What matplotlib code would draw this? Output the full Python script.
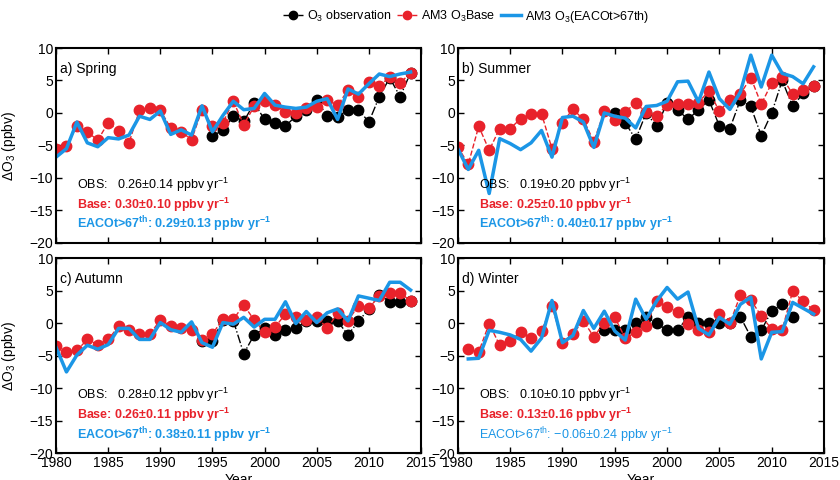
import numpy as np
import matplotlib.pyplot as plt

plt.rcParams['font.family'] = ['Liberation Sans', 'DejaVu Sans']
plt.rcParams['font.size'] = 9
plt.rcParams['mathtext.fontset'] = 'custom'
plt.rcParams['mathtext.rm'] = 'Liberation Sans'
plt.rcParams['mathtext.bf'] = 'Liberation Sans:bold'

# seasonal O3 anomalies (ppbv)
years = list(range(1980, 2015))
years_win = list(range(1981, 2015))

spring_base = [-5.6, -5.1, -2.0, -2.9, -4.2, -1.5, -2.8, -4.6, 0.4, 0.8, 0.4, -2.3, -2.9, -4.1, 0.5,
               -2.0, -1.5, 1.8, -1.8, 1.0, 1.8, 1.2, 0.15, 0.0, 0.7, 0.9, 2.0, 1.2, 3.5, 2.4,
               4.8, 4.1, 5.6, 4.6, 6.2]
spring_eaco = [-6.8, -5.5, -1.4, -4.6, -5.2, -3.8, -4.0, -3.4, -0.5, -1.0, 0.3, -3.3, -2.6, -3.4, 1.1,
               -2.9, -0.4, 1.8, 0.5, 0.7, 3.0, 1.2, 0.9, 0.7, 0.9, 1.8, 2.2, -1.0, 3.7, 2.9,
               4.5, 6.0, 5.6, 6.0, 6.3]
spring_obs_years = list(range(1995, 2015))
spring_obs = [-3.6, -2.6, -0.5, -1.3, 1.5, -1.0, -1.5, -2.0, -0.5, 0.4, 2.0, -0.5, -0.6, 0.5, 0.5,
              -1.4, 2.5, 5.4, 2.5, 6.2]

summer_base = [-5.2, -7.9, -2.05, -5.75, -2.4, -2.4, -0.9, -0.2, -0.1, -5.5, -1.5, 0.6, -1.0, -4.4, 0.25,
               -1.1, 0.2, 1.5, 0.1, -0.4, 1.2, 1.45, 1.4, 1.6, 3.4, 0.25, 2.05, 2.9, 5.45, 1.35,
               4.6, 5.5, 2.9, 3.6, 4.1]
summer_eaco = [-5.5, -8.7, -5.75, -12.4, -3.95, -4.7, -5.65, -4.6, -2.7, -6.8, -0.7, -0.5, -1.4, -5.3, 0.0,
               -0.5, -0.8, -2.3, 1.0, 1.15, 1.8, 4.8, 4.9, 1.7, 6.3, 2.2, 0.55, 3.2, 8.9, 4.0,
               8.9, 6.1, 5.6, 4.5, 7.1]
summer_obs_years = list(range(1995, 2015))
summer_obs = [0.0, -1.5, -4.05, 0.0, -2.05, 1.5, 0.5, -1.0, 0.5, 2.0, -2.0, -2.4, 2.0, 1.0, -3.5,
              0.0, 5.0, 1.0, 3.0, 4.1]

autumn_base = [-3.5, -4.5, -4.2, -2.5, -3.3, -2.5, -0.5, -1.0, -1.6, -1.7, 0.5, -0.4, -0.8, -1.0, -2.6,
               -1.7, 0.7, 0.6, 2.8, 0.5, -1.4, -0.6, 1.4, 0.9, 0.5, 1.0, -0.8, 1.5, 0.4, 2.7,
               2.3, 4.2, 4.7, 4.7, 3.4]
autumn_eaco = [-3.7, -7.5, -4.9, -3.4, -4.0, -3.3, -0.8, -0.8, -2.5, -2.5, 0.1, -1.0, -1.4, 0.2, -3.0,
               -3.7, 0.1, -0.15, 0.9, -0.6, 0.6, 0.6, 3.3, -0.05, 1.8, 0.1, 1.6, 2.2, 0.35, 4.2,
               3.85, 3.5, 6.3, 6.3, 5.1]
autumn_obs_years = list(range(1994, 2015))
autumn_obs = [-2.7, -2.7, 0.5, 0.4, -4.7, -1.8, -0.8, -1.8, -1.0, -0.8, 0.3, 0.3, 0.3, 0.3, -1.8,
              0.3, 2.2, 4.4, 3.3, 3.3, 3.4]

winter_base = [-3.9, -4.4, -0.05, -3.4, -2.8, -1.3, -2.3, -1.2, 2.7, -3.0, -1.6, 0.35, -2.1, 0.1,
               0.9, -2.3, -1.4, -0.4, 3.4, 2.5, 1.75, -0.05, -1.1, -1.4, 1.4, 0.0, 4.3, 3.6,
               1.1, -0.9, -1.0, 4.9, 3.4, 2.0]
winter_eaco = [-5.5, -5.4, -1.1, -1.4, -1.8, -2.5, -4.3, -2.3, 3.5, -3.0, -1.9, 1.95, -0.8, 1.85,
               -1.2, -2.6, 3.7, 0.6, 3.4, 5.5, 3.7, 4.8, -0.8, -1.8, 0.9, -0.15, 2.9, 4.0,
               -5.5, -1.4, -1.3, 3.2, 2.3, 1.4]
winter_obs_years = list(range(1994, 2013))
winter_obs = [-1.1, -1.1, -1.1, 0.0, 1.0, 0.0, -1.1, -1.1, 1.0, 0.0, 0.0, 0.0, 0.0, 1.0, -2.1,
              -1.1, 1.9, 2.9, 0.9]

titles = ['a) Spring', 'b) Summer', 'c) Autumn', 'd) Winter']
trend_obs = ['0.26\u00b10.14', '0.19\u00b10.20', '0.28\u00b10.12', '0.10\u00b10.10']
trend_base = ['0.30\u00b10.10', '0.25\u00b10.10', '0.26\u00b10.11', '0.13\u00b10.16']
trend_eaco = ['0.29\u00b10.13', '0.40\u00b10.17', '0.38\u00b10.11', '\u22120.06\u00b10.24']
eaco_bold = [True, True, True, False]

red = '#e8222b'
blue = '#1b96e6'

seasons = [
    (years, spring_base, spring_eaco, spring_obs_years, spring_obs),
    (years, summer_base, summer_eaco, summer_obs_years, summer_obs),
    (years, autumn_base, autumn_eaco, autumn_obs_years, autumn_obs),
    (years_win, winter_base, winter_eaco, winter_obs_years, winter_obs),
]

def sup(s, bold):
    # superscript that follows the weight of the surrounding text
    return '$^{\\mathbf{' + s + '}}$' if bold else '$^{\\mathrm{' + s + '}}$'

fig = plt.figure(figsize=(8.4, 4.8), dpi=100)
boxes = [[0.0667, 0.494, 0.4345, 0.406], [0.545, 0.494, 0.436, 0.406],
         [0.0667, 0.056, 0.4345, 0.406], [0.545, 0.056, 0.436, 0.406]]

for i in range(4):
    ax = fig.add_axes(boxes[i])
    yr, base, eaco, oyr, obs = seasons[i]
    l1, = ax.plot(oyr, obs, color='black', ls='-.', lw=1, marker='o', ms=7.5, label='O$_3$ observation')
    l2, = ax.plot(yr, base, color=red, ls='--', lw=1, marker='o', ms=7.5, label='AM3 O$_3$Base')
    l3, = ax.plot(yr, eaco, color=blue, ls='-', lw=2.5, label='AM3 O$_3$(EACOt>67th)')
    ax.set_xlim(1980, 2015)
    ax.set_ylim(-20, 10)
    ax.set_xticks(range(1980, 2016, 5))
    ax.set_yticks(range(-20, 11, 5))
    ax.tick_params(direction='in', top=True, right=True, length=4, width=1, labelsize=10, pad=2)
    for s in ax.spines.values():
        s.set_linewidth(1.5)
    if i < 2:
        ax.set_xticklabels([])
    else:
        ax.set_xlabel('Year', fontsize=10)
        ax.xaxis.set_label_coords(0.5, -0.1)
    if i % 2 == 0:
        ax.set_ylabel('\u0394O$_3$ (ppbv)', fontsize=10)
        ax.yaxis.set_label_coords(-0.105, 0.5)

    ax.text(1980.4, 6.8, titles[i], fontsize=10, va='center')
    ax.text(1982, -11.1, 'OBS:   ' + trend_obs[i] + ' ppbv yr' + sup('-1', False),
            color='black', va='center')
    ax.text(1982, -14.1, 'Base: ' + trend_base[i] + ' ppbv yr' + sup('-1', True),
            color=red, fontweight='bold', va='center')
    b = eaco_bold[i]
    ax.text(1982, -17.2, 'EACOt>67' + sup('th', b) + ': ' + trend_eaco[i] + ' ppbv yr' + sup('-1', b),
            color=blue, fontweight='bold' if b else 'normal', va='center')

fig.legend(handles=[l1, l2, l3], loc='center', bbox_to_anchor=(0.555, 0.965), ncol=3, frameon=False,
           fontsize=9, handlelength=1.6, columnspacing=0.5, handletextpad=0.3, markerscale=0.8)

fig.savefig('out.png', dpi=100)
